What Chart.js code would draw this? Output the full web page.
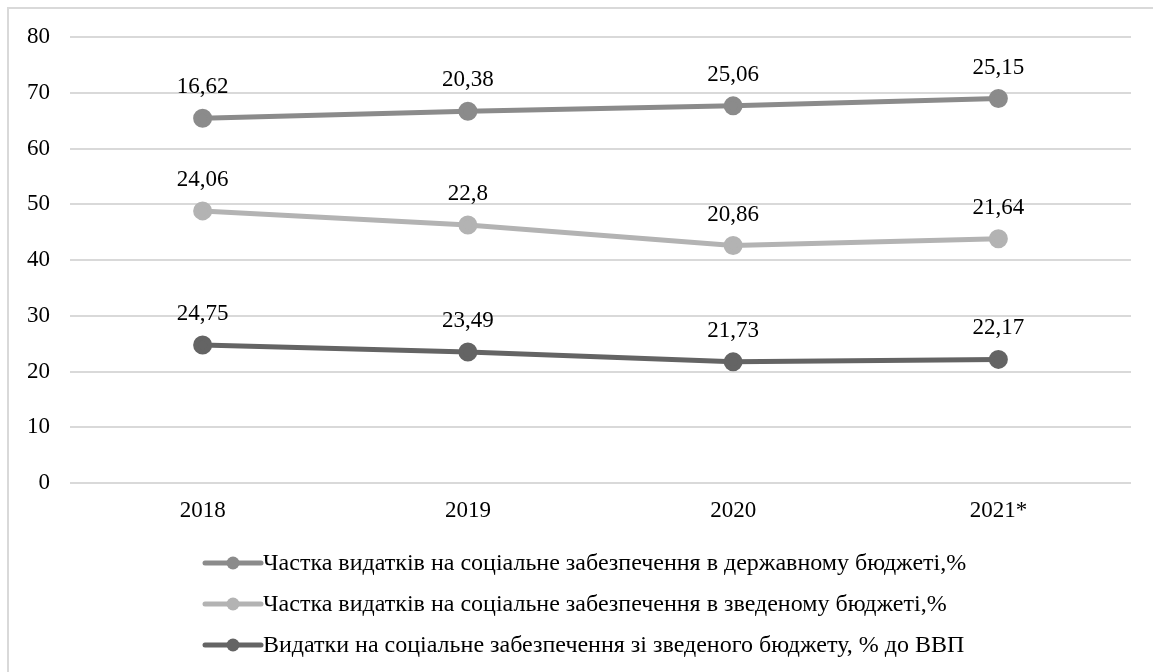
<!DOCTYPE html>
<html>
<head>
    <meta charset="utf-8">
    <title>Видатки на соціальне забезпечення</title>
    <style>
        html, body {
            margin: 0;
            padding: 0;
            background: #fff;
            overflow: hidden;
        }
        #frame {
            position: absolute;
            left: 7px;
            top: 7px;
            width: 1200px;
            height: 720px;
            border: 2px solid #d9d9d9;
        }
        #chart {
            position: absolute;
            left: 0;
            top: 0;
        }
    </style>
    <script src="https://cdn.jsdelivr.net/npm/chart.js"></script>
</head>
<body>
    <div id="frame"></div>
    <canvas id="chart" width="1153" height="672"></canvas>

    <script>
        var roky = ['2018', '2019', '2020', '2021*'];
        var chastkaDerzh = [16.62, 20.38, 25.06, 25.15];
        var chastkaZved = [24.06, 22.8, 20.86, 21.64];
        var vydatkyVvp = [24.75, 23.49, 21.73, 22.17];
        var yTicks = [0, 10, 20, 30, 40, 50, 60, 70, 80];

        var shryft = '"Liberation Serif", "Times New Roman", serif';

        // лінії накопичуються знизу вгору: ВВП, зведений, державний
        var seriyi = [
            { label: 'Видатки на соціальне забезпечення зі зведеного бюджету, % до ВВП', data: vydatkyVvp, color: '#646464' },
            { label: 'Частка видатків на соціальне забезпечення в зведеному бюджеті,%', data: chastkaZved, color: '#b3b3b3' },
            { label: 'Частка видатків на соціальне забезпечення в державному бюджеті,%', data: chastkaDerzh, color: '#8b8b8b' }
        ];

        // підписи значень над точками
        var pidpysy = {
            id: 'pidpysy',
            afterDatasetsDraw: function(chart) {
                var ctx = chart.ctx;
                ctx.save();
                ctx.font = '23px ' + shryft;
                ctx.fillStyle = '#000';
                ctx.textAlign = 'center';
                ctx.textBaseline = 'middle';
                chart.data.datasets.forEach(function(ds, i) {
                    chart.getDatasetMeta(i).data.forEach(function(pt, j) {
                        ctx.fillText(String(ds.data[j]).replace('.', ','), pt.x, pt.y - 31);
                    });
                });
                ctx.restore();
            }
        };

        // легенда стовпчиком, у порядку зверху вниз
        var lehenda = {
            id: 'lehenda',
            afterDraw: function(chart) {
                var ctx = chart.ctx;
                var x0 = 205, y0 = 563, krok = 41;
                ctx.save();
                ctx.font = '24px ' + shryft;
                ctx.textAlign = 'left';
                ctx.textBaseline = 'middle';
                var ds = chart.data.datasets.slice().reverse();
                ds.forEach(function(d, k) {
                    var y = y0 + k * krok;
                    ctx.strokeStyle = d.borderColor;
                    ctx.lineWidth = 5;
                    ctx.lineCap = 'round';
                    ctx.beginPath();
                    ctx.moveTo(x0, y);
                    ctx.lineTo(x0 + 56, y);
                    ctx.stroke();
                    ctx.fillStyle = d.borderColor;
                    ctx.beginPath();
                    ctx.arc(x0 + 28, y, 6.5, 0, Math.PI * 2);
                    ctx.fill();
                    ctx.fillStyle = '#000';
                    ctx.fillText(d.label, x0 + 58, y + 1);
                });
                ctx.restore();
            }
        };

        var ctx = document.getElementById('chart').getContext('2d');
        var chart = new Chart(ctx, {
            type: 'line',
            data: {
                labels: roky,
                datasets: seriyi.map(function(s) {
                    return {
                        label: s.label,
                        data: s.data,
                        borderColor: s.color,
                        backgroundColor: s.color,
                        pointBackgroundColor: s.color,
                        pointBorderColor: s.color,
                        borderWidth: 5,
                        pointRadius: 7,
                        pointHoverRadius: 7,
                        tension: 0,
                        fill: false
                    };
                })
            },
            options: {
                responsive: false,
                animation: false,
                layout: {
                    padding: { top: 37, right: 22, bottom: 139, left: 0 }
                },
                plugins: {
                    legend: { display: false },
                    tooltip: { enabled: false }
                },
                scales: {
                    x: {
                        offset: true,
                        grid: { display: false, drawTicks: false },
                        border: { display: false },
                        ticks: {
                            padding: 14,
                            color: '#000',
                            font: { family: shryft, size: 23 }
                        },
                        afterFit: function(s) { s.height = 50; }
                    },
                    y: {
                        stacked: true,
                        min: 0,
                        max: 80,
                        afterBuildTicks: function(s) {
                            s.ticks = yTicks.map(function(v) { return { value: v }; });
                        },
                        grid: { color: '#d9d9d9', lineWidth: 2, drawTicks: false },
                        border: { display: false },
                        ticks: {
                            padding: 20,
                            color: '#000',
                            font: { family: shryft, size: 23 }
                        },
                        afterFit: function(s) { s.width = 70; }
                    }
                }
            },
            plugins: [pidpysy, lehenda]
        });
    </script>
</body>
</html>
